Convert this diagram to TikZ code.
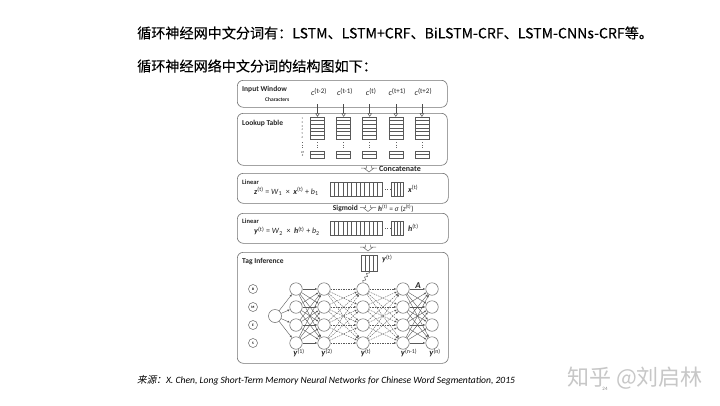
\documentclass[tikz,border=0pt]{standalone}
\usepackage{fontspec}
\setmainfont{Carlito}
\newfontfamily\cjk{Noto Sans CJK SC}
\newfontfamily\cjktitle{Noto Sans CJK SC}[FakeBold=0.2]
\newfontfamily\cjkit{Noto Sans CJK SC}[FakeSlant=0.2]
\newcommand\vbf[1]{\textbf{\textit{#1}}}
\newcommand\sps[1]{\textsuperscript{(#1)}}
\usetikzlibrary{arrows.meta,decorations.pathmorphing}
\tikzset{
  panel/.style={draw=black!55, rounded corners=6pt, line width=0.6pt, anchor=north west, inner sep=0},
  ptitle/.style={font=\fontsize{7.5}{8}\selectfont\bfseries, anchor=west, inner sep=0, text=black!85},
  lab/.style={font=\fontsize{7}{8}\selectfont, inner sep=0, text=black!85},
  cellbox/.style={draw=black!65, line width=0.45pt, inner sep=0},
  neuron/.style={circle, draw=black!60, line width=0.5pt, minimum size=12.5pt, inner sep=0},
  tagc/.style={circle, draw=black!60, line width=0.5pt, minimum size=9pt, inner sep=0, font=\fontsize{3.5}{4}\selectfont\bfseries},
  conn/.style={draw=black!65, line width=0.4pt, -{Latex[length=2.5pt,width=2pt]}},
  dconn/.style={conn, dashed, dash pattern=on 1.5pt off 1pt},
  blockarrow/.pic={\draw[black!60, line width=0.5pt] (-2.5,0) -- (-2.5,2.5) -- (-8,2.5)
     (-5,2.5) -- (0,6.5) -- (5,2.5) (8,2.5) -- (2.5,2.5) -- (2.5,0);}
}
\begin{document}
\begin{tikzpicture}[x=1pt,y=-1pt]
\useasboundingbox[fill=white] (0,0) rectangle (720,405);

% titles
\node[anchor=west, inner sep=0, font=\cjktitle\fontsize{14.1}{16}\selectfont] (t1) at (137,33) {循环神经网中文分词有：LSTM、LSTM+CRF、BiLSTM-CRF、LSTM-CNNs-CRF等。};
\node[anchor=west, inner sep=0, font=\cjktitle\fontsize{14.1}{16}\selectfont] (t2) at (137,66) {循环神经网络中文分词的结构图如下：};

% panels
\node[panel, minimum width=210pt, minimum height=27pt] (pin) at (237,80) {};
\node[panel, minimum width=210pt, minimum height=52pt] (plt) at (237,113) {};
\node[panel, minimum width=211pt, minimum height=30pt] (pl1) at (237,173) {};
\node[panel, minimum width=211pt, minimum height=30pt] (pl2) at (237,213) {};
\node[panel, minimum width=211pt, minimum height=111pt] (pti) at (237,252) {};

% input window
\node[ptitle] (tin) at (242,89) {Input Window};
\node[lab, anchor=west, font=\fontsize{5.5}{6}\selectfont\bfseries] (tch) at (265,99.5) {Characters};
\node[ptitle] (tlt) at (242,123) {Lookup Table};

% row labels
\foreach \k in {1,...,6} {
  \node[inner sep=0, font=\fontsize{3}{3}\selectfont, text=black!70] (rl\k) at (302.5,{117+(\k-0.5)*22/6}) {\k};
}
\draw[black!60, dotted, line width=0.5pt] (302.5,142) -- (302.5,148);
\node[inner sep=0, font=\fontsize{3}{3}\selectfont, text=black!70, align=center] (rln) at (302.5,154) {\#\#\\\#};

\foreach \i/\lb in {0/{t-2},1/{t-1},2/{t},3/{t+1},4/{t+2}} {
  \pgfmathsetmacro\cx{317.5+26.1*\i}
  \node[lab, font=\fontsize{8}{9}\selectfont] (c\i) at (\cx+1.5,92) {\textit{c}\textsuperscript{\scriptsize(\lb)}};
  \node[cellbox, minimum width=14pt, minimum height=22pt] (lt\i) at (\cx,128) {};
  \foreach \k in {1,...,5} { \draw[black!65, line width=0.45pt] (\cx-7,{117+\k*22/6}) -- ++(14,0); }
  \draw[black!60, dotted, line width=0.6pt] (\cx,142) -- (\cx,148);
  \node[cellbox, minimum width=14pt, minimum height=7pt] (lb\i) at (\cx,154.5) {};
  \draw[black!65, line width=0.45pt] (\cx-7,154.5) -- (\cx+7,154.5);
  \draw[black!70, line width=0.5pt, -{Triangle[open,length=3.5pt,width=4.5pt]}] (\cx,104) -- (lt\i.north);
}

% concatenate
\pic (ca) at (369,165.5) {blockarrow};
\node[lab, anchor=west, font=\fontsize{8}{9}\selectfont\bfseries] (tcat) at (379,168.5) {Concatenate};

% linear 1
\node[ptitle, font=\fontsize{6.5}{7}\selectfont\bfseries] (tl1) at (242,182) {Linear};
\node[lab, anchor=west, font=\fontsize{8}{9}\selectfont] (f1) at (254,191) {\vbf{z}\sps{t} = \textit{W}\textsubscript{1} \ × \ \vbf{x}\sps{t} + \textit{b}\textsubscript{1}};
% linear 2
\node[ptitle, font=\fontsize{6.5}{7}\selectfont\bfseries] (tl2) at (242,221.5) {Linear};
\node[lab, anchor=west, font=\fontsize{8}{9}\selectfont] (f2) at (254,231) {\vbf{y}\sps{t} = \textit{W}\textsubscript{2} \ × \ \vbf{h}\sps{t} + \textit{b}\textsubscript{2}};

\foreach \n/\yy/\lb in {a/189/x, b/228/h} {
  \node[cellbox, minimum width=52pt, minimum height=14pt] (v\n) at (356,\yy) {};
  \foreach \k in {1,...,11} { \draw[black!65, line width=0.45pt] ({330+\k*52/12},\yy-7) -- ++(0,14); }
  \node[cellbox, minimum width=12pt, minimum height=14pt] (w\n) at (397,\yy) {};
  \foreach \k in {1,...,3} { \draw[black!65, line width=0.45pt] ({391+\k*3},\yy-7) -- ++(0,14); }
  \draw[black!65, dotted, line width=0.6pt] (v\n.east) -- (w\n.west);
  \node[lab, anchor=west, font=\fontsize{8}{9}\selectfont] (l\n) at (408,\yy) {\vbf{\lb}\sps{t}};
}

% sigmoid
\node[lab, anchor=east, font=\fontsize{7.5}{8}\selectfont\bfseries] (tsig) at (358,208.5) {Sigmoid};
\pic (sa) at (368,205) {blockarrow};
\node[lab, anchor=west, font=\fontsize{7.5}{8}\selectfont] (fsig) at (378,208.5) {\vbf{h}\sps{t} = \textit{σ} (\textit{z}\sps{t})};
\pic (ta) at (368,244.5) {blockarrow};

% tag inference
\node[ptitle] (tti) at (242,262) {Tag Inference};
\node[cellbox, minimum width=16pt, minimum height=16pt] (yv) at (369,263) {};
\foreach \k in {1,...,3} { \draw[black!65, line width=0.45pt] ({361+\k*4},255) -- ++(0,16); }
\node[lab, anchor=west, font=\fontsize{8}{9}\selectfont] (yvl) at (382,259) {\vbf{y}\sps{t}};

\foreach \r/\yy/\t in {1/289/B,2/307/M,3/325/E,4/343/S} {
  \node[tagc] (tg\r) at (253,\yy) {\t};
}
\node[neuron, minimum size=13pt] (s) at (275,316) {};
\foreach \c/\xx in {1/296,2/324,3/363,4/403,5/432} {
  \foreach \r/\yy in {1/289,2/307,3/325,4/343} {
    \node[neuron] (n\c\r) at (\xx,\yy) {};
  }
}
\foreach \r in {1,...,4} { \draw[conn] (s) -- (n1\r); }
\foreach \a in {1,...,4} {
  \foreach \b in {1,...,4} {
    \draw[conn] (n1\a) -- (n2\b);
    \draw[dconn] (n2\a) -- (n3\b);
    \draw[dconn] (n3\a) -- (n4\b);
    \draw[conn] (n4\a) -- (n5\b);
  }
}
\draw[black!65, line width=0.5pt, decorate, decoration={snake, amplitude=1.2pt, segment length=4pt}] (yv.south) -- (n31.north);
\node[lab, font=\fontsize{9}{10}\selectfont\bfseries\itshape] (A) at (418,286) {A};

\foreach \c/\xx/\lb in {1/299/{1},2/327/{2},3/366/{t},4/409/{n-1},5/435/{n}} {
  \node[lab, font=\fontsize{8.5}{9}\selectfont] (ly\c) at (\xx,353) {\vbf{y}\sps{\lb}};
}

% caption
\node[anchor=west, inner sep=0, font=\fontsize{9.6}{10}\selectfont\itshape] (cap) at (137,380) {{\cjkit 来源：}X. Chen, Long Short-Term Memory Neural Networks for Chinese Word Segmentation, 2015};
\node[anchor=west, inner sep=0, text=black!22, font=\cjk\fontsize{22}{23}\selectfont] (wm) at (567,378) {知乎 @刘启林};
\node[inner sep=0, text=black!45, font=\fontsize{5}{5}\selectfont] (pg) at (605,389) {24};
\end{tikzpicture}
\end{document}
